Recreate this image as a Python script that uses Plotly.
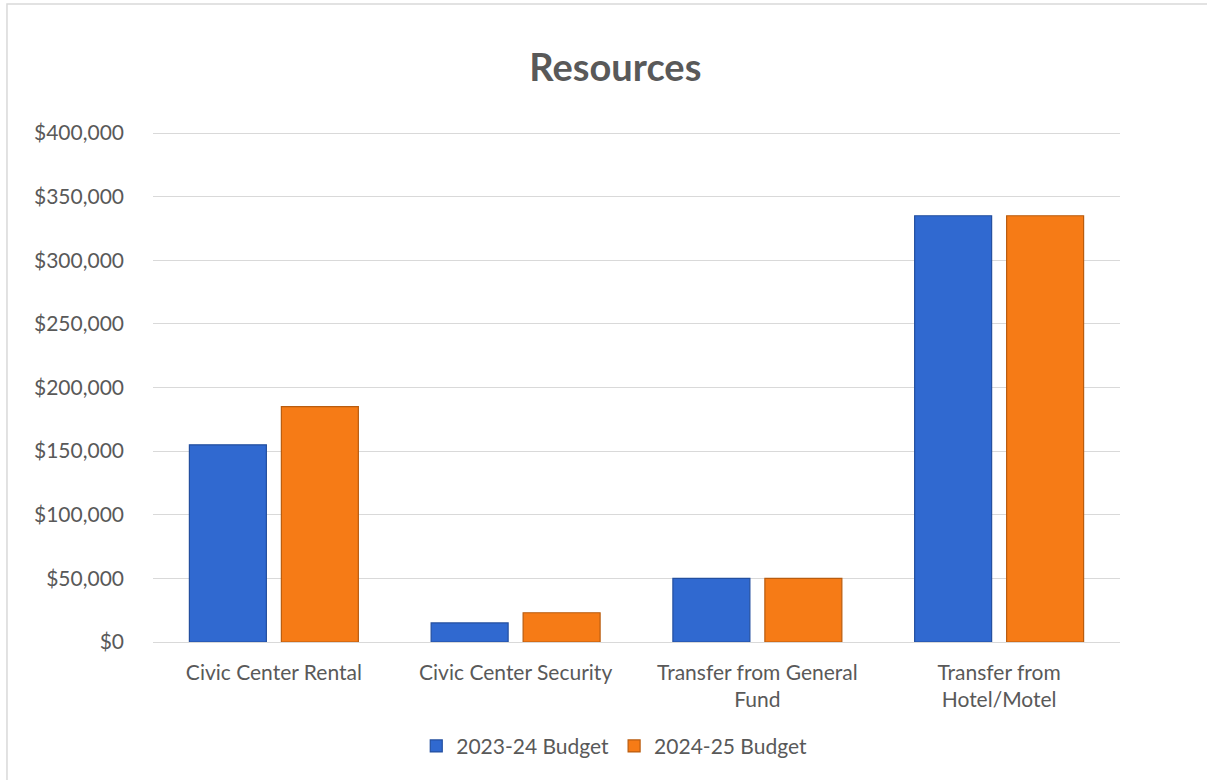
import plotly.graph_objects as go

categories = ["Civic Center Rental", "Civic Center Security",
              "Transfer from General<br>Fund", "Transfer from<br>Hotel/Motel"]
budget_2023_24 = [155000, 15000, 50000, 335000]
budget_2024_25 = [185000, 23000, 50000, 335000]
y_ticks = [0, 50000, 100000, 150000, 200000, 250000, 300000, 350000, 400000]
y_tick_labels = ["$0", "$50,000", "$100,000", "$150,000", "$200,000",
                 "$250,000", "$300,000", "$350,000", "$400,000"]

text_color = "#595959"
font_family = "Lato, 'Open Sans', sans-serif"

fig = go.Figure()
fig.add_trace(go.Bar(
    name="2023-24 Budget", x=categories, y=budget_2023_24,
    marker=dict(color="#3069d0", line=dict(color="#234f9f", width=1.2)),
))
fig.add_trace(go.Bar(
    name="2024-25 Budget", x=categories, y=budget_2024_25,
    marker=dict(color="#f67b16", line=dict(color="#b95c0f", width=1.2)),
))

# chart frame: only the left and top edges fall inside the page
frame_path = "M -0.151,-0.27 L -0.151,1.2485 L 1.09,1.2485"

fig.update_layout(
    width=1209, height=783,
    margin=dict(l=153, r=89, t=131, b=141),
    paper_bgcolor="white", plot_bgcolor="white",
    barmode="group", bargap=0.239, bargroupgap=0.163,
    font=dict(family=font_family, color=text_color, size=21),
    title=dict(text="<b>Resources</b>", x=0.509, xanchor="center",
               y=0.913, yanchor="middle",
               font=dict(size=38, color=text_color, family=font_family)),
    legend=dict(orientation="h", x=0.477, xanchor="center",
                y=-0.204, yanchor="middle",
                font=dict(size=21, color=text_color),
                itemwidth=30, traceorder="normal"),
    shapes=[dict(type="path", xref="paper", yref="paper", path=frame_path,
                 line=dict(color="#d9d9d9", width=1.5), layer="below")],
)
fig.update_yaxes(range=[0, 401600], tickvals=y_ticks, ticktext=y_tick_labels,
                 showgrid=True, gridcolor="#d9d9d9", gridwidth=1.3,
                 zeroline=True, zerolinecolor="#d9d9d9", zerolinewidth=1.3,
                 showline=False, ticks="", ticklabelstandoff=28,
                 tickfont=dict(size=21, color=text_color))
fig.update_xaxes(showline=False, ticks="", showgrid=False,
                 ticklabelstandoff=16,
                 tickfont=dict(size=21, color=text_color))

fig.write_html("out.html")
